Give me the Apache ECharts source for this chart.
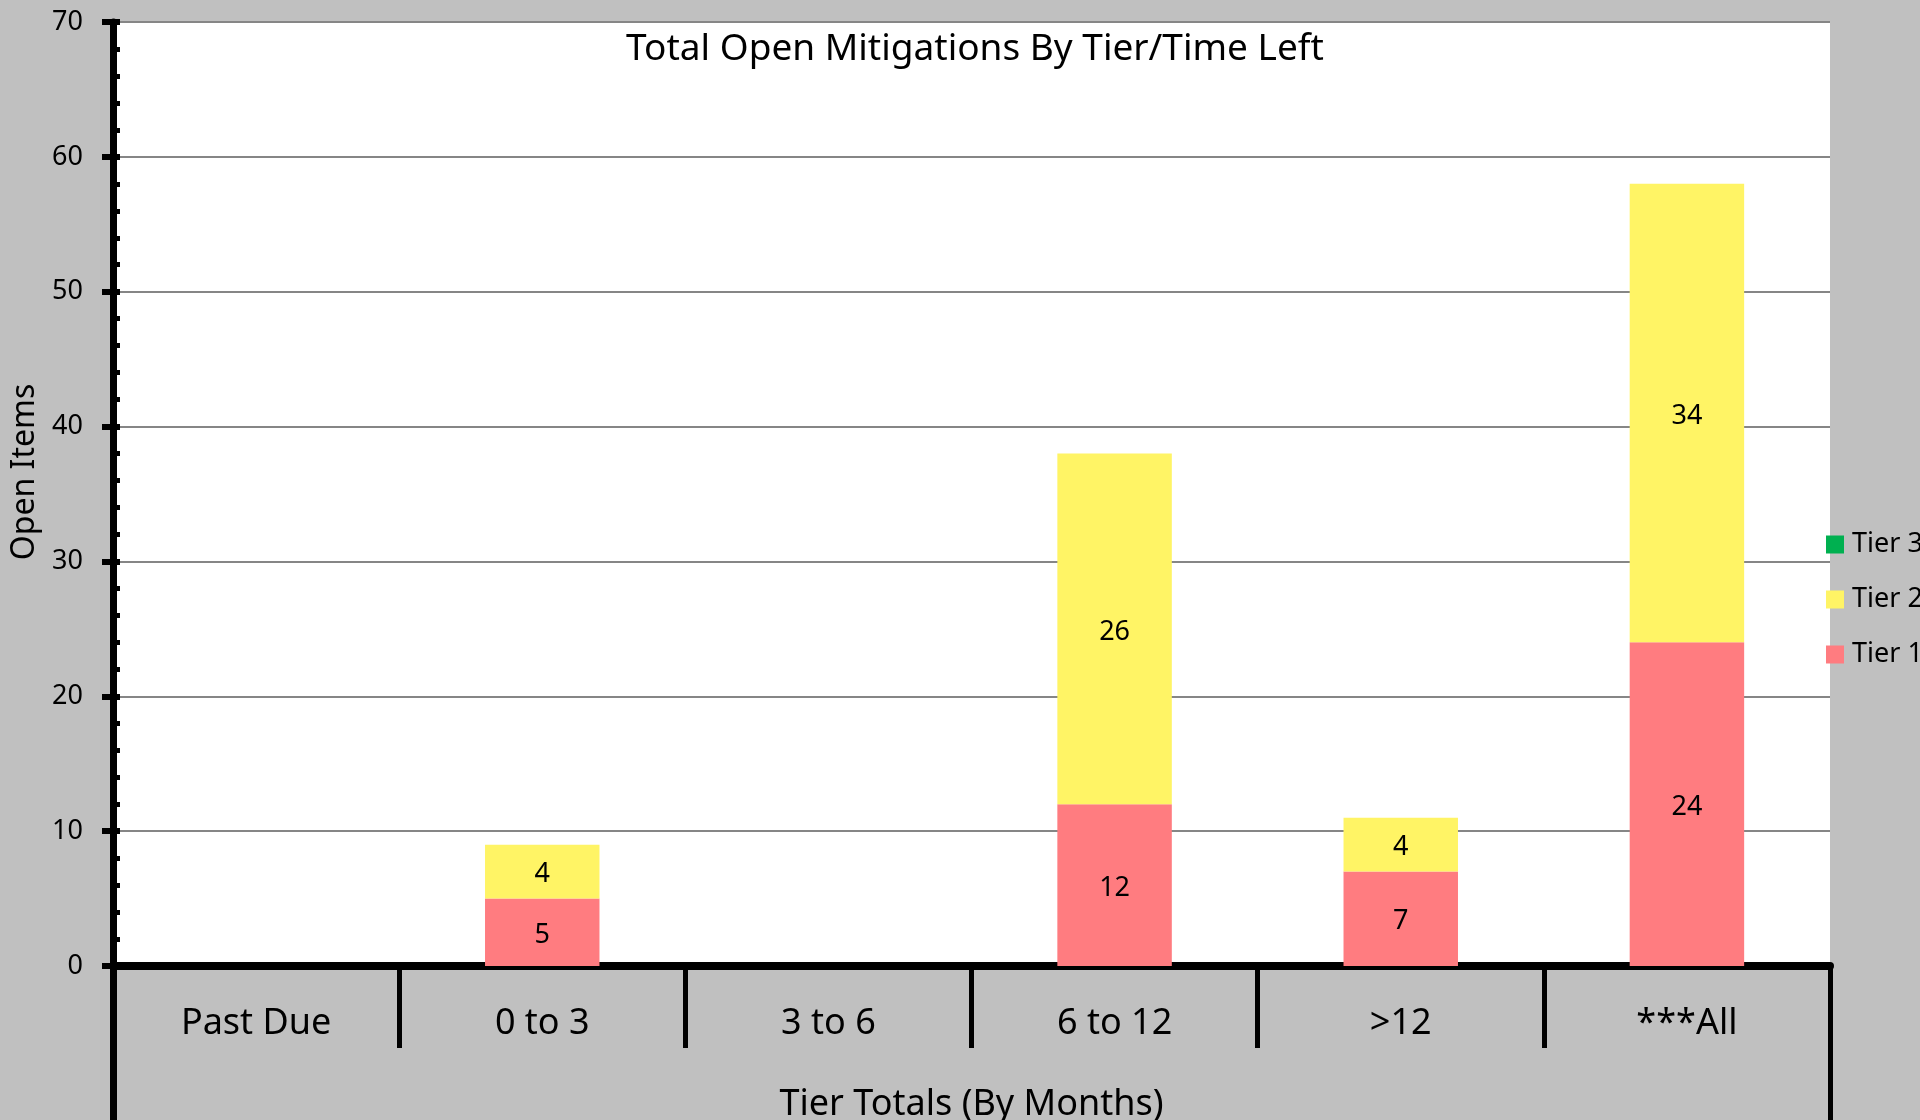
<!DOCTYPE html>
<html>
<head>
<meta charset="utf-8">
<title>Total Open Mitigations By Tier/Time Left</title>
<script src="https://cdn.jsdelivr.net/npm/echarts@6/dist/echarts.min.js"></script>
<style>
    html, body { margin: 0; padding: 0; background: #c0c0c0; }
    #divChart { width: 1920px; height: 1120px; }
</style>
</head>
<body>
<div id="divChart"></div>
<script>
var categories = ['Past Due', '0 to 3', '3 to 6', '6 to 12', '>12', '***All'];
var tier1 = [0, 5, 0, 12, 7, 24];
var tier2 = [0, 4, 0, 26, 4, 34];
var tier3 = [0, 0, 0, 0, 0, 0];
var legendNames = ['Tier 3', 'Tier 2', 'Tier 1'];
var yMin = 0, yMax = 70, yStep = 10;

var FONT = 'Noto Sans';
var myChart = echarts.init(document.getElementById('divChart'));

function hideZero(p) {
    return p.value == 0 ? '' : p.value;
}

function buildSeries() {
    var result = [];
    var list = [
        { name: 'Tier 1', data: tier1, color: '#ff7c80' },
        { name: 'Tier 2', data: tier2, color: '#fff465' },
        { name: 'Tier 3', data: tier3, color: '#00b050' }
    ];
    for (var i = 0; i < list.length; i++) {
        result.push({
            name: list[i].name,
            type: 'bar',
            stack: 'total',
            barWidth: '40%',
            xAxisIndex: 0,
            yAxisIndex: 0,
            data: list[i].data,
            itemStyle: { color: list[i].color },
            label: {
                show: true,
                position: 'inside',
                offset: [0, 3],
                color: '#000',
                fontFamily: FONT,
                fontSize: 27,
                formatter: hideZero
            }
        });
    }
    return result;
}

var option = {
    backgroundColor: '#c0c0c0',
    animation: false,
    title: {
        text: 'Total Open Mitigations By Tier/Time Left',
        left: 975,
        textAlign: 'center',
        top: 29,
        padding: 0,
        textStyle: { fontFamily: FONT, fontSize: 37, fontWeight: 'normal', color: '#000', lineHeight: 40 }
    },
    legend: {
        data: legendNames,
        orient: 'vertical',
        left: 1826,
        top: 531,
        padding: 0,
        itemWidth: 18,
        itemHeight: 18,
        itemGap: 28,
        icon: 'rect',
        textStyle: { fontFamily: FONT, fontSize: 27, color: '#000', lineHeight: 27, padding: [0, 0, 0, 3] }
    },
    grid: [
        { left: 113, right: 90, top: 22, bottom: 154, outerBoundsMode: 'none', show: true, backgroundColor: '#fff', borderWidth: 0 },
        { left: 113, right: 90, top: 22, bottom: 154, outerBoundsMode: 'none' },
        { left: 113, right: 90, top: 966, bottom: 0, outerBoundsMode: 'none' }
    ],
    xAxis: [
        {
            gridIndex: 0,
            type: 'category',
            data: categories,
            axisLine: { lineStyle: { color: '#000', width: 8 } },
            axisTick: { show: true, interval: 0, length: 82, lineStyle: { color: '#000', width: 5 } },
            axisLabel: { interval: 0, fontFamily: FONT, fontSize: 36, color: '#000', margin: 58, verticalAlign: 'middle', lineHeight: 36 },
            name: 'Tier Totals (By Months)',
            nameLocation: 'middle',
            nameGap: 139,
            nameTextStyle: { fontFamily: FONT, fontSize: 36, color: '#000', verticalAlign: 'middle', lineHeight: 36 }
        },
        { gridIndex: 1, type: 'category', data: categories, show: false },
        { gridIndex: 2, type: 'category', data: categories, show: false }
    ],
    yAxis: [
        {
            gridIndex: 0,
            type: 'value',
            min: yMin,
            max: yMax,
            interval: yStep,
            axisLine: { show: true, lineStyle: { color: '#000', width: 7 } },
            axisTick: { show: true, length: 11, lineStyle: { color: '#000', width: 6 } },
            axisLabel: { fontFamily: FONT, fontSize: 27, color: '#000', margin: 30 },
            splitLine: { show: true, lineStyle: { color: '#868686', width: 2 } },
            name: 'Open Items',
            nameLocation: 'middle',
            nameGap: 78,
            nameTextStyle: { fontFamily: FONT, fontSize: 32, color: '#000', verticalAlign: 'middle', padding: [0, 0, 0, 44] }
        },
        {
            // inner ticks + minor ticks
            gridIndex: 1,
            type: 'value',
            min: yMin,
            max: yMax,
            interval: yStep,
            axisLine: { show: false },
            axisLabel: { show: false },
            splitLine: { show: false },
            axisTick: { show: true, inside: true, length: 7, lineStyle: { color: '#000', width: 6 } },
            minorTick: { show: true, splitNumber: 5, length: 7, lineStyle: { color: '#000', width: 5 } }
        },
        {
            gridIndex: 2, type: 'value', position: 'left',
            axisLine: { show: true, lineStyle: { color: '#000', width: 7 } },
            axisTick: { show: false }, axisLabel: { show: false }, splitLine: { show: false }
        },
        {
            gridIndex: 2, type: 'value', position: 'right',
            axisLine: { show: true, lineStyle: { color: '#000', width: 5 } },
            axisTick: { show: false }, axisLabel: { show: false }, splitLine: { show: false }
        }
    ],
    series: buildSeries()
};

myChart.setOption(option);
</script>
</body>
</html>
